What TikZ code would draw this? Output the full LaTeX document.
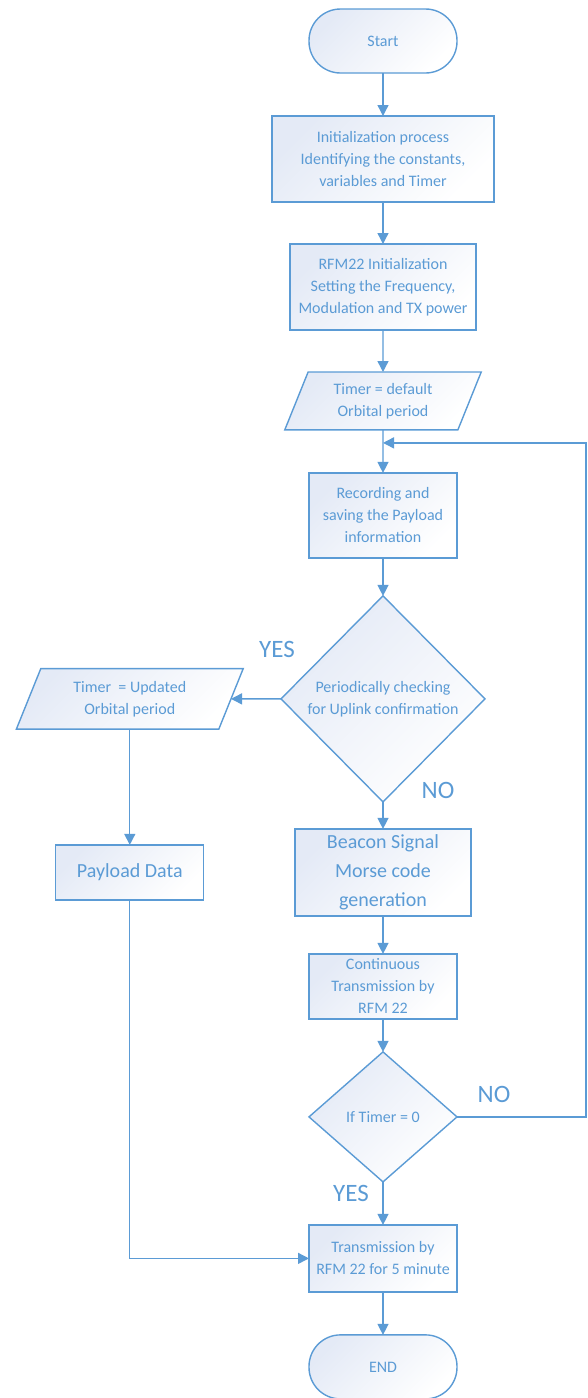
\documentclass[tikz,border=0pt]{standalone}
\usepackage{fontspec}
\setmainfont{Carlito}
\usetikzlibrary{
	shapes.geometric,
	arrows.meta,
	positioning,
	calc
}
\definecolor{flowblue}{HTML}{5B9BD5}
\definecolor{boxfill}{HTML}{E4EAF6}

\begin{document}
\begin{tikzpicture}[
				x=1pt, y=1pt,
				stage/.style={
					rectangle, draw=flowblue, line width=1.4pt,
					top color=boxfill, bottom color=white, shading angle=45,
					text=flowblue, align=center, inner sep=2pt, outer sep=0pt,
					font=\fontsize{16}{22}\selectfont
				},
				termbox/.style={
					stage, rounded corners=31.5pt,
					minimum width=148pt, minimum height=64pt
				},
				iobox/.style={
					stage, trapezium, trapezium left angle=68,
					trapezium right angle=112, minimum height=55pt
				},
				decision/.style={
					stage, diamond, inner sep=0pt
				},
				bigtext/.style={font=\fontsize{20}{29}\selectfont},
				answer/.style={text=flowblue, font=\fontsize{25}{25}\selectfont},
				arrow/.style={-{Triangle[length=11pt,width=11pt]}, line width=1.4pt, draw=flowblue}
				]
				\useasboundingbox (0,0) rectangle (587,-1398);
				
				% Start
				\node[termbox] (start) at (383,-41) {Start};
				
				% initialization
				\node[stage, minimum width=222pt, minimum height=86pt, below=43pt of start] (init) {Initialization process\\Identifying the constants,\\variables and Timer};
				
				% RFM22 setup
				\node[stage, minimum width=186pt, minimum height=86pt, below=42pt of init] (rfm) {RFM22 Initialization\\Setting the Frequency,\\Modulation and TX power};
				
				% default timer
				\node[iobox, minimum width=197pt, below=42pt of rfm] (tdefault) {Timer = default\\Orbital period};
				\coordinate[below=13pt of tdefault] (loopin);
				
				% recording
				\node[stage, minimum width=148pt, minimum height=85pt, below=43pt of tdefault] (record) {Recording and\\saving the Payload\\information};
				
				% uplink check
				\node[decision, minimum width=204pt, minimum height=206pt, below=38pt of record] (uplink) {Periodically checking\\for Uplink confirmation};
				
				% updated timer
				\node[iobox, minimum width=227pt, minimum height=54pt, left=50pt of uplink] (tupdated) {Timer \ = Updated\\Orbital period};
				
				% beacon
				\node[stage, bigtext, minimum width=176pt, minimum height=87pt, below=27pt of uplink] (beacon) {Beacon Signal\\Morse code\\generation};
				
				% payload
				\node[stage, bigtext, minimum width=148pt, minimum height=55pt] (payload) at (tupdated |- beacon) {Payload Data};
				
				% continuous transmission
				\node[stage, minimum width=148pt, minimum height=65pt, below=38pt of beacon] (contx) {Continuous\\Transmission by\\RFM 22};
				
				% timer check
				\node[decision, minimum width=148pt, minimum height=130pt, below=33pt of contx] (tzero) {If Timer = 0};
				
				% transmission
				\node[stage, minimum width=148pt, minimum height=67pt, below=43pt of tzero] (transmit) {Transmission by\\RFM 22 for 5 minute};
				
				% END
				\node[termbox, below=43pt of transmit] (finish) {END};
				
				% answers
				\node[answer] (yes1) at ($(uplink.west)+(-4,49)$) {YES};
				\node[answer] (no1) at ($(uplink.south)+(55,11)$) {NO};
				\node[answer] (no2) at ($(tzero.east)+(37,22)$) {NO};
				\node[answer] (yes2) at ($(tzero.south)+(-32,-12)$) {YES};
				
				% arrows
				\draw[arrow] (start)    -- (init);
				\draw[arrow] (init)     -- (rfm);
				\draw[arrow] (rfm)      -- (tdefault);
				\draw[arrow] (tdefault) -- (record);
				\draw[arrow] (record)   -- (uplink);
				\draw[arrow] (uplink)   -- (tupdated);
				\draw[arrow] (tupdated) -- (payload);
				\draw[arrow] (uplink)   -- (beacon);
				\draw[arrow] (beacon)   -- (contx);
				\draw[arrow] (contx)    -- (tzero);
				\draw[arrow] (tzero)    -- (transmit);
				\draw[arrow] (transmit) -- (finish);
				\draw[arrow] (payload)  |- (transmit);
				\draw[arrow] (tzero.east) -- ++(129,0) |- (loopin);
			\end{tikzpicture}
\end{document}
